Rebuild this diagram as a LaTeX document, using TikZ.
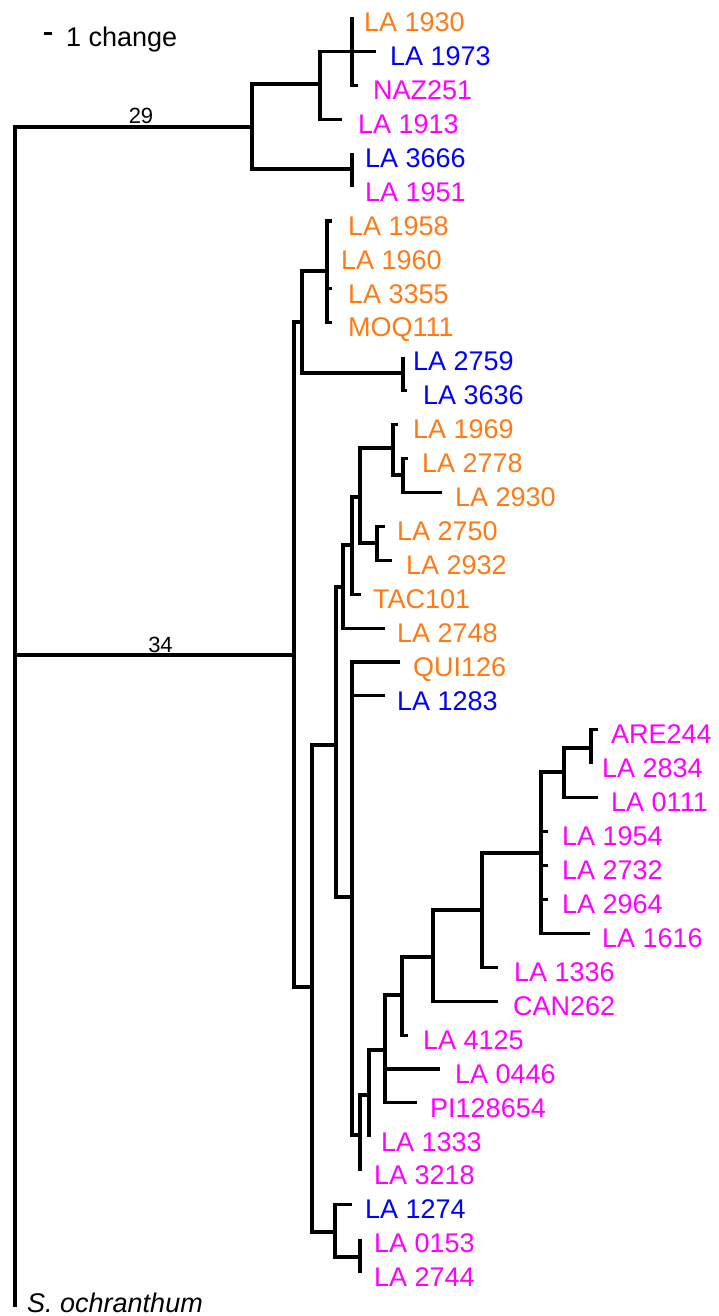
\documentclass[tikz,border=0pt]{standalone}
\usepackage{fontspec}
\setmainfont{Liberation Sans}
\begin{document}
\begin{tikzpicture}[x=1pt,y=-1pt,
  br/.style={line width=3.1pt, line join=miter, black},
  lab/.style={anchor=base west, inner sep=0pt, font=\fontsize{27}{30}\selectfont},
  num/.style={anchor=base, inner sep=0pt, font=\fontsize{22}{24}\selectfont}]
\definecolor{cor}{RGB}{255,122,20}
\definecolor{cbl}{RGB}{0,0,255}
\definecolor{cmg}{RGB}{255,0,255}
\useasboundingbox (0,0) rectangle (718,1316);
% internal nodes
\coordinate (R) at (15,655);
\coordinate (A) at (252,127);
\coordinate (A1) at (320,84);
\coordinate (A1a) at (352,51.4);
\coordinate (A2) at (352,169);
\coordinate (B) at (294,655);
\coordinate (P1) at (302,322);
\coordinate (P1a) at (327,271);
\coordinate (P1b) at (403,373);
\coordinate (X8) at (312,987);
\coordinate (X6) at (336,745);
\coordinate (X5) at (343,587);
\coordinate (X4) at (352,545);
\coordinate (X3) at (360,497);
\coordinate (X1) at (393,448);
\coordinate (X2) at (403,475);
\coordinate (X3b) at (377,543);
\coordinate (X7) at (352,897);
\coordinate (Y1) at (360,1135);
\coordinate (Y2) at (369,1095);
\coordinate (Y3) at (385,1050);
\coordinate (Y4) at (402,995);
\coordinate (Y5) at (433,957);
\coordinate (Y6) at (482,910);
\coordinate (Y7) at (541,853);
\coordinate (Y8) at (564,772);
\coordinate (Y9) at (591,748);
\coordinate (Z1) at (335,1232);
\coordinate (Z2) at (360,1257);
% leaves
\coordinate (l1) at (352,17.5);
\coordinate (l2) at (376,51.4);
\coordinate (l3) at (358,85.3);
\coordinate (l4) at (342,119.3);
\coordinate (l5) at (352,153.2);
\coordinate (l6) at (352,187.1);
\coordinate (l7) at (332,221.0);
\coordinate (l8) at (327,254.9);
\coordinate (l9) at (332,288.9);
\coordinate (l10) at (332,322.8);
\coordinate (l11) at (403,356.7);
\coordinate (l12) at (407,390.6);
\coordinate (l13) at (398,424.5);
\coordinate (l14) at (408,458.5);
\coordinate (l15) at (442,492.4);
\coordinate (l16) at (385,526.3);
\coordinate (l17) at (392,560.2);
\coordinate (l18) at (361,594.1);
\coordinate (l19) at (385,628.1);
\coordinate (l20) at (400,662.0);
\coordinate (l21) at (385,695.9);
\coordinate (l22) at (598,729.8);
\coordinate (l23) at (591,763.7);
\coordinate (l24) at (598,797.7);
\coordinate (l25) at (548,831.6);
\coordinate (l26) at (548,865.5);
\coordinate (l27) at (548,899.4);
\coordinate (l28) at (590,933.3);
\coordinate (l29) at (498,967.3);
\coordinate (l30) at (498,1001.2);
\coordinate (l31) at (408,1035.1);
\coordinate (l32) at (440,1069.0);
\coordinate (l33) at (417,1102.9);
\coordinate (l34) at (369,1136.9);
\coordinate (l35) at (360,1170.8);
\coordinate (l36) at (352,1204.7);
\coordinate (l37) at (360,1238.6);
\coordinate (l38) at (360,1272.5);
\coordinate (l39) at (15,1307);
% branches
\foreach \p/\c in {R/A, R/B, R/l39, A/A1, A/A2, A1/A1a, A1/l4, A1a/l1, A1a/l2, A1a/l3,
  A2/l5, A2/l6, B/P1, B/X8, P1/P1a, P1/P1b, P1a/l7, P1a/l8, P1a/l9, P1a/l10,
  P1b/l11, P1b/l12, X8/X6, X8/Z1, X6/X5, X6/X7, X5/X4, X5/l19, X4/X3, X4/l18,
  X3/X1, X3/X3b, X1/l13, X1/X2, X2/l14, X2/l15, X3b/l16, X3b/l17,
  X7/l20, X7/l21, X7/Y1, Y1/Y2, Y1/l35, Y2/Y3, Y2/l34, Y3/Y4, Y3/l32, Y3/l33,
  Y4/Y5, Y4/l31, Y5/Y6, Y5/l30, Y6/Y7, Y6/l29, Y7/Y8, Y7/l25, Y7/l26, Y7/l27, Y7/l28,
  Y8/Y9, Y8/l24, Y9/l22, Y9/l23, Z1/l36, Z1/Z2, Z2/l37, Z2/l38}
  \draw[br] (\p) |- (\c);
% scale bar and support values
\coordinate (sb1) at (44,34);
\coordinate (sb2) at (52,34);
\draw[line width=3pt] (sb1) -- (sb2);
\node[lab] (sc) at (66,47) {1 change};
\node[num] (n29) at (141,123.5) {29};
\node[num] (n34) at (160.5,652) {34};
% labels
\node[lab, text=cor] (t1) at (364,31.6) {LA 1930};
\node[lab, text=cbl] (t2) at (390,65.5) {LA 1973};
\node[lab, text=cmg] (t3) at (373,99.4) {NAZ251};
\node[lab, text=cmg] (t4) at (358,133.4) {LA 1913};
\node[lab, text=cbl] (t5) at (365,167.3) {LA 3666};
\node[lab, text=cmg] (t6) at (365,201.2) {LA 1951};
\node[lab, text=cor] (t7) at (348,235.1) {LA 1958};
\node[lab, text=cor] (t8) at (341,269.0) {LA 1960};
\node[lab, text=cor] (t9) at (348,303.0) {LA 3355};
\node[lab, text=cor] (t10) at (348,336.9) {MOQ111};
\node[lab, text=cbl] (t11) at (413,370.8) {LA 2759};
\node[lab, text=cbl] (t12) at (423,404.7) {LA 3636};
\node[lab, text=cor] (t13) at (413,438.6) {LA 1969};
\node[lab, text=cor] (t14) at (422,472.6) {LA 2778};
\node[lab, text=cor] (t15) at (455,506.5) {LA 2930};
\node[lab, text=cor] (t16) at (397,540.4) {LA 2750};
\node[lab, text=cor] (t17) at (406,574.3) {LA 2932};
\node[lab, text=cor] (t18) at (373,608.2) {TAC101};
\node[lab, text=cor] (t19) at (397,642.2) {LA 2748};
\node[lab, text=cor] (t20) at (413,676.1) {QUI126};
\node[lab, text=cbl] (t21) at (397,710.0) {LA 1283};
\node[lab, text=cmg] (t22) at (611,743.9) {ARE244};
\node[lab, text=cmg] (t23) at (602,777.8) {LA 2834};
\node[lab, text=cmg] (t24) at (611,811.8) {LA 0111};
\node[lab, text=cmg] (t25) at (562,845.7) {LA 1954};
\node[lab, text=cmg] (t26) at (562,879.6) {LA 2732};
\node[lab, text=cmg] (t27) at (562,913.5) {LA 2964};
\node[lab, text=cmg] (t28) at (602,947.4) {LA 1616};
\node[lab, text=cmg] (t29) at (514,981.4) {LA 1336};
\node[lab, text=cmg] (t30) at (513,1015.3) {CAN262};
\node[lab, text=cmg] (t31) at (423,1049.2) {LA 4125};
\node[lab, text=cmg] (t32) at (455,1083.1) {LA 0446};
\node[lab, text=cmg] (t33) at (430,1117.0) {PI128654};
\node[lab, text=cmg] (t34) at (381,1151.0) {LA 1333};
\node[lab, text=cmg] (t35) at (374,1184.9) {LA 3218};
\node[lab, text=cbl] (t36) at (365,1218.8) {LA 1274};
\node[lab, text=cmg] (t37) at (374,1252.7) {LA 0153};
\node[lab, text=cmg] (t38) at (374,1286.6) {LA 2744};
\node[lab, font=\fontsize{27}{30}\selectfont\itshape] (t39) at (27,1312) {S. ochranthum};
\end{tikzpicture}
\end{document}
